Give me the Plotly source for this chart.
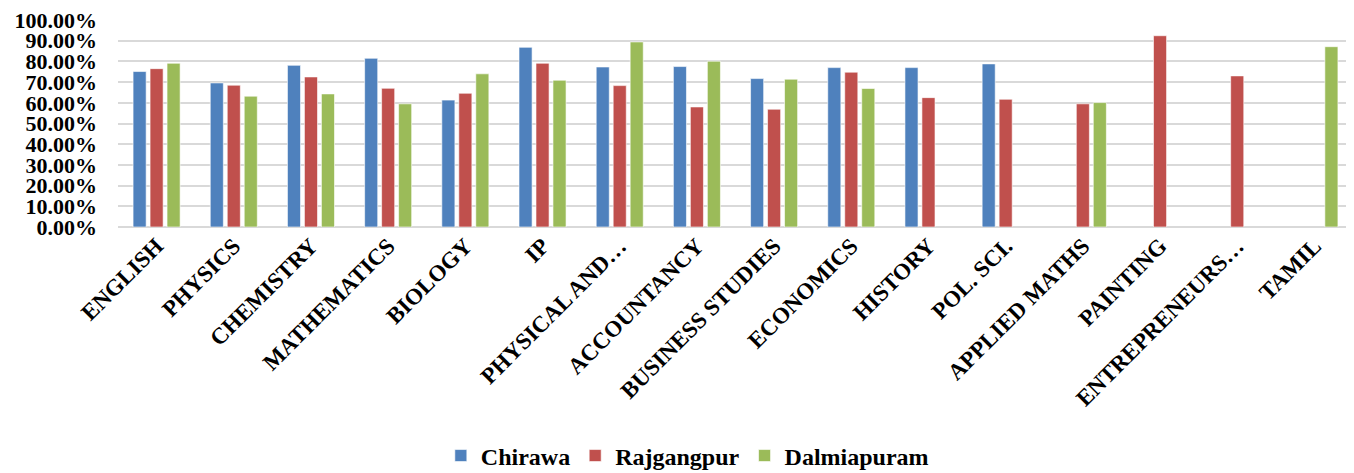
import plotly.graph_objects as go

subjects = ["ENGLISH", "PHYSICS", "CHEMISTRY", "MATHEMATICS", "BIOLOGY", "IP",
            "PHYSICAL AND…", "ACCOUNTANCY", "BUSINESS STUDIES", "ECONOMICS",
            "HISTORY", "POL. SCI.", "APPLIED MATHS", "PAINTING",
            "ENTREPRENEURS…", "TAMIL"]

chirawa = [0.751, 0.696, 0.781, 0.815, 0.613, 0.868, 0.773, 0.775, 0.717, 0.770,
           0.770, 0.788, None, None, None, None]
rajgangpur = [0.765, 0.685, 0.725, 0.670, 0.646, 0.791, 0.683, 0.580, 0.569, 0.748,
              0.625, 0.617, 0.595, 0.924, 0.730, None]
dalmiapuram = [0.791, 0.632, 0.643, 0.595, 0.740, 0.709, 0.894, 0.801, 0.714, 0.669,
               None, None, 0.601, None, None, 0.871]

series = [("Chirawa", chirawa, "#4F81BD"),
          ("Rajgangpur", rajgangpur, "#C0504D"),
          ("Dalmiapuram", dalmiapuram, "#9BBB59")]

font_family = "Liberation Serif"

fig = go.Figure()
for name, vals, color in series:
    fig.add_trace(go.Bar(
        x=subjects, y=vals, name=name,
        marker=dict(color=color, line=dict(color="rgba(255,255,255,0.6)", width=1)),
    ))

# page body has an 8px default margin; size the figure to compensate
fig.update_layout(
    width=1346, height=465,
    margin=dict(l=110, r=1, t=12, b=246, autoexpand=False),
    paper_bgcolor="white", plot_bgcolor="white",
    barmode="group", bargap=0.34, bargroupgap=0.23,
    font=dict(family=font_family, color="black"),
    showlegend=True,
    legend=dict(orientation="h", x=0.461, xanchor="center", y=-1.106, yanchor="middle",
                font=dict(size=24, family=font_family, weight="bold"),
                itemwidth=30, tracegroupgap=0),
    xaxis=dict(tickangle=-45, tickfont=dict(size=23, family=font_family, weight="bold"),
               showgrid=False, showline=False, ticks="", automargin=False,
               ticklabeloverflow="allow"),
    yaxis=dict(range=[0, 1.0], tickvals=[i / 10 for i in range(11)], tickformat=".2%",
               tickfont=dict(size=22, family=font_family, weight="bold"),
               showgrid=True, gridcolor="#D9D9D9", gridwidth=1.5,
               zeroline=True, zerolinecolor="#D9D9D9", zerolinewidth=1.5,
               showline=False, ticks="", ticklabelstandoff=20, automargin=False,
               ticklabeloverflow="allow"),
)

fig.write_html("out.html")
